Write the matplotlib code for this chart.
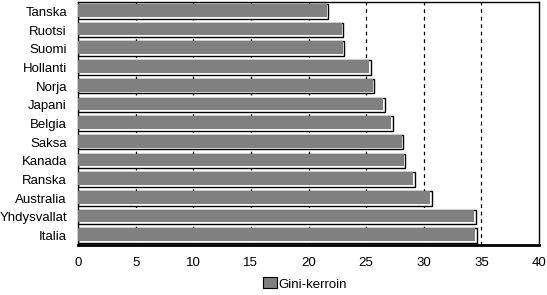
import matplotlib.pyplot as plt
from matplotlib.patches import Patch

countries = ["Tanska", "Ruotsi", "Suomi", "Hollanti", "Norja", "Japani", "Belgia",
             "Saksa", "Kanada", "Ranska", "Australia", "Yhdysvallat", "Italia"]
gini = [21.7, 23.0, 23.1, 25.4, 25.7, 26.6, 27.3, 28.2, 28.4, 29.2, 30.7, 34.5, 34.6]
xticks = [0, 5, 10, 15, 20, 25, 30, 35, 40]

plt.rcParams["font.family"] = ["Liberation Sans", "DejaVu Sans"]
plt.rcParams["font.size"] = 9.5

fig = plt.figure(figsize=(5.47, 2.95), dpi=100)
ax = fig.add_axes([0.1426, 0.1695, 0.8428, 0.8237])

pos = list(range(len(countries)))
h = 0.78
# outer bar: white highlight with black border
ax.barh(pos, gini, height=h, color="white", edgecolor="black", linewidth=1.0, zorder=2)
# inner grey face, shifted up/left to leave a light edge at right/bottom
ax.barh([p - 0.05 for p in pos], [g - 0.12 for g in gini], height=h - 0.1,
        color="#808080", edgecolor="none", zorder=3)

ax.set_ylim(len(countries) - 0.5, -0.5)
ax.set_xlim(0, 40)
ax.set_xticks(xticks)
ax.set_yticks(pos)
ax.set_yticklabels(countries)
ax.tick_params(axis="y", length=0, pad=8)
ax.tick_params(axis="x", length=0, pad=9)
for x in xticks[1:-1]:
    ax.axvline(x, color="black", linestyle=(0, (3, 3)), linewidth=0.9, zorder=1)
for s in ax.spines.values():
    s.set_linewidth(1.0)
ax.spines["bottom"].set_linewidth(2.0)

fig.legend([Patch(facecolor="#808080", edgecolor="black", linewidth=0.8)],
           ["Gini-kerroin"], loc="lower center", bbox_to_anchor=(0.557, -0.025),
           frameon=False, handlelength=1.1, handleheight=0.9, handletextpad=0.1)

fig.savefig("out.png", dpi=100)
